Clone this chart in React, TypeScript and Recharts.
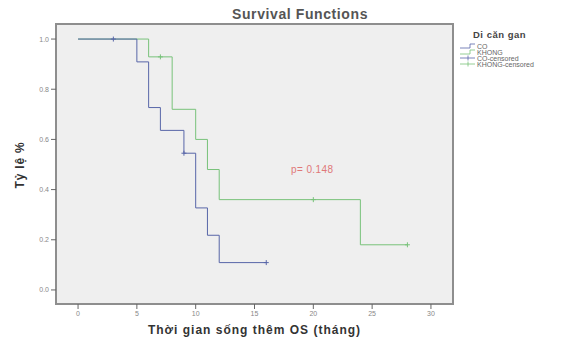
import React from 'react';
import {
  ComposedChart,
  Line,
  Scatter,
  XAxis,
  YAxis,
  ReferenceArea,
} from 'recharts';

// Kaplan-Meier steps
const coTimes = [0, 5, 6, 7, 9, 10, 11, 12, 16];
const coSurv = [1.0, 0.909, 0.727, 0.636, 0.545, 0.327, 0.218, 0.109, 0.109];
const khongTimes = [0, 6, 8, 10, 11, 12, 24, 28];
const khongSurv = [1.0, 0.929, 0.72, 0.6, 0.48, 0.36, 0.18, 0.18];

// censored cases
const coCensTimes = [3, 9, 16];
const coCensSurv = [1.0, 0.545, 0.109];
const khongCensTimes = [7, 20, 28];
const khongCensSurv = [0.929, 0.36, 0.18];

const xTicks = [0, 5, 10, 15, 20, 25, 30];
const yTicks = [0, 0.2, 0.4, 0.6, 0.8, 1.0];

const legendItems = ['CO', 'KHONG', 'CO-censored', 'KHONG-censored'];

const BLUE = '#5866a8';
const GREEN = '#78c27a';
const FONT = '"Liberation Sans", Arial, sans-serif';

const toPoints = (ts: number[], ss: number[]) => ts.map((t, i) => ({ t, s: ss[i] }));

const coData = toPoints(coTimes, coSurv);
const khongData = toPoints(khongTimes, khongSurv);
const coCens = toPoints(coCensTimes, coCensSurv);
const khongCens = toPoints(khongCensTimes, khongCensSurv);

const plusShape = (color: string) => (props: any) => {
  const { cx, cy } = props;
  return (
    <path
      d={`M${cx - 2.5},${cy}h5M${cx},${cy - 2.5}v5`}
      stroke={color}
      strokeWidth={1}
      fill="none"
    />
  );
};

const App: React.FC = () => {
  const legendColors = [BLUE, GREEN, BLUE, GREEN];
  return (
    <div
      style={{
        position: 'absolute',
        left: 0,
        top: 0,
        width: 561,
        height: 338,
        background: 'white',
        fontFamily: FONT,
      }}
    >
      <ComposedChart
        width={561}
        height={338}
        margin={{ top: 24, right: 108, left: 0, bottom: 0 }}
      >
        <XAxis
          dataKey="t"
          type="number"
          domain={[-1.875, 31.875]}
          ticks={xTicks}
          allowDataOverflow
          height={34}
          axisLine={false}
          tickLine={{ stroke: '#666' }}
          tickSize={5}
          tick={{ fontSize: 7, fill: '#888', fontFamily: FONT }}
        />
        <YAxis
          dataKey="s"
          type="number"
          domain={[-0.056, 1.06]}
          ticks={yTicks}
          allowDataOverflow
          width={56}
          axisLine={false}
          tickLine={{ stroke: '#666' }}
          tickSize={5}
          tickFormatter={(v: number) => v.toFixed(1)}
          tick={{ fontSize: 7, fill: '#888', fontFamily: FONT }}
        />
        <ReferenceArea
          x1={-1.875}
          x2={31.875}
          y1={-0.056}
          y2={1.06}
          fill="#efefef"
          fillOpacity={1}
          stroke="#8e8e8e"
          strokeWidth={2}
        />
        <Line
          data={khongData}
          dataKey="s"
          type="stepAfter"
          stroke={GREEN}
          strokeWidth={1}
          dot={false}
          isAnimationActive={false}
        />
        <Line
          data={coData}
          dataKey="s"
          type="stepAfter"
          stroke={BLUE}
          strokeWidth={1}
          dot={false}
          isAnimationActive={false}
        />
        <Scatter
          data={coCens}
          dataKey="s"
          shape={plusShape(BLUE)}
          isAnimationActive={false}
        />
        <Scatter
          data={khongCens}
          dataKey="s"
          shape={plusShape(GREEN)}
          isAnimationActive={false}
        />
      </ComposedChart>

      <div
        style={{
          position: 'absolute',
          left: 232,
          top: 6,
          fontSize: 14,
          fontWeight: 700,
          color: '#555',
          letterSpacing: 0.6,
        }}
      >
        Survival Functions
      </div>

      <div
        style={{
          position: 'absolute',
          left: 56,
          width: 397,
          top: 323,
          textAlign: 'center',
          fontSize: 12,
          fontWeight: 700,
          color: '#333',
          letterSpacing: 1,
        }}
      >
        Thời gian sống thêm OS (tháng)
      </div>

      <div
        style={{
          position: 'absolute',
          left: 20,
          top: 165,
          transform: 'translate(-50%, -50%) rotate(-90deg)',
          fontSize: 12,
          fontWeight: 700,
          color: '#333',
          whiteSpace: 'nowrap',
          letterSpacing: 0.8,
        }}
      >
        Tỷ lệ %
      </div>

      <div
        style={{
          position: 'absolute',
          left: 291,
          top: 164,
          fontSize: 10,
          color: '#e07878',
          letterSpacing: 0.4,
        }}
      >
        p= 0.148
      </div>

      <div
        style={{
          position: 'absolute',
          left: 473,
          top: 29,
          fontSize: 9.5,
          fontWeight: 700,
          color: '#444',
          letterSpacing: 0.5,
        }}
      >
        Di căn gan
      </div>
      {legendItems.map((name, i) => (
        <div
          key={name}
          style={{
            position: 'absolute',
            left: 460,
            top: 43 + i * 6,
            height: 6,
            display: 'flex',
            alignItems: 'center',
            fontSize: 7,
            color: '#666',
            whiteSpace: 'nowrap',
          }}
        >
          <svg width={16} height={6} style={{ marginRight: 1 }}>
            {i < 2 ? (
              <path d="M0,5H10V1H15" stroke={legendColors[i]} fill="none" strokeWidth={0.8} />
            ) : (
              <path d="M0,3H15M8,0.5V5.5" stroke={legendColors[i]} fill="none" strokeWidth={0.8} />
            )}
          </svg>
          {name}
        </div>
      ))}
    </div>
  );
};

export default App;
